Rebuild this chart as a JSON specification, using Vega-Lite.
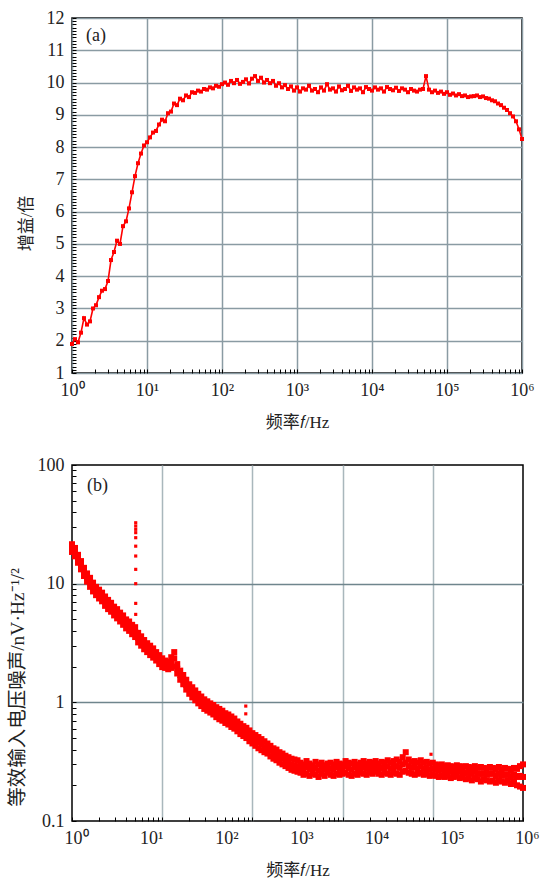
{
"$schema": "https://vega.github.io/schema/vega-lite/v6.json",
"padding": {"left": 6, "top": 8, "right": 10, "bottom": 0},
"background": "white",
"spacing": 24,
"config": {
  "view": {"stroke": "#000", "strokeWidth": 1.5},
  "font": "Liberation Serif",
  "axis": {"domain": false, "labelFont": "Liberation Serif", "labelFontSize": 18, "labelColor": "#222", "titleFont": "Liberation Serif, Noto Sans CJK SC", "titleFontSize": 17, "titleFontWeight": "normal", "titleColor": "#222", "tickColor": "#000", "tickWidth": 1, "tickSize": -4, "labelPadding": 12, "titlePadding": 15, "labelFlush": false, "labelOverlap": false, "gridWidth": 1.5}
},
"datasets": {
"main": [
{"f":1,"g":1.9,"a":21.5,"m":20,"b":18.5},
{"f":1.096,"g":2.05,"a":20,"m":18.4,"b":17},
{"f":1.202,"g":1.95,"a":17.5,"m":16.3,"b":15},
{"f":1.318,"g":2.25,"a":15.5,"m":14.2,"b":13.2},
{"f":1.445,"g":2.7,"a":13.6,"m":12.6,"b":11.6},
{"f":1.585,"g":2.5,"a":12.2,"m":11.2,"b":10.4},
{"f":1.738,"g":2.6,"a":11.2,"m":10.3,"b":9.4},
{"f":1.905,"g":3.0,"a":10.2,"m":9.3,"b":8.6},
{"f":2.089,"g":3.1,"a":9.4,"m":8.7,"b":8.0},
{"f":2.291,"g":3.35,"a":8.9,"m":8.2,"b":7.5},
{"f":2.512,"g":3.55,"a":8.4,"m":7.7,"b":7.1},
{"f":2.754,"g":3.6,"a":7.8,"m":7.1,"b":6.5},
{"f":3.02,"g":3.85,"a":7.3,"m":6.7,"b":6.1},
{"f":3.311,"g":4.5,"a":6.9,"m":6.3,"b":5.8},
{"f":3.631,"g":4.75,"a":6.4,"m":5.9,"b":5.4},
{"f":3.981,"g":5.1,"a":6.1,"m":5.6,"b":5.1},
{"f":4.365,"g":5.0,"a":5.7,"m":5.2,"b":4.8},
{"f":4.786,"g":5.55,"a":5.4,"m":4.9,"b":4.5},
{"f":5.248,"g":5.7,"a":5.0,"m":4.6,"b":4.2},
{"f":5.754,"g":6.1,"a":4.8,"m":4.4,"b":4.0},
{"f":6.31,"g":6.6,"a":4.5,"m":4.1,"b":3.75},
{"f":6.918,"g":7.1,"a":4.3,"m":3.9,"b":3.55},
{"f":7.586,"g":7.5,"a":3.85,"m":3.5,"b":3.2},
{"f":8.318,"g":7.8,"a":3.6,"m":3.3,"b":3.0},
{"f":9.12,"g":8.05,"a":3.35,"m":3.05,"b":2.8},
{"f":10,"g":8.15,"a":3.15,"m":2.9,"b":2.65},
{"f":10.96,"g":8.3,"a":3.0,"m":2.75,"b":2.5},
{"f":12.02,"g":8.45,"a":2.85,"m":2.6,"b":2.38},
{"f":13.18,"g":8.5,"a":2.65,"m":2.45,"b":2.25},
{"f":14.45,"g":8.7,"a":2.5,"m":2.3,"b":2.1},
{"f":15.85,"g":8.85,"a":2.35,"m":2.15,"b":1.98},
{"f":17.38,"g":8.8,"a":2.25,"m":2.1,"b":1.95},
{"f":19.05,"g":9.05,"a":2.2,"m":2.05,"b":1.9},
{"f":20.89,"g":9.1,"a":2.4,"m":2.15,"b":1.95},
{"f":22.91,"g":9.35,"a":2.65,"m":2.35,"b":2.0},
{"f":25.12,"g":9.3,"a":2.1,"m":1.92,"b":1.75},
{"f":27.54,"g":9.5,"a":1.85,"m":1.7,"b":1.55},
{"f":30.2,"g":9.45,"a":1.7,"m":1.55,"b":1.42},
{"f":33.11,"g":9.6,"a":1.55,"m":1.4,"b":1.28},
{"f":36.31,"g":9.55,"a":1.42,"m":1.3,"b":1.18},
{"f":39.81,"g":9.7,"a":1.34,"m":1.22,"b":1.1},
{"f":43.65,"g":9.68,"a":1.26,"m":1.15,"b":1.04},
{"f":47.86,"g":9.75,"a":1.18,"m":1.08,"b":0.98},
{"f":52.48,"g":9.72,"a":1.12,"m":1.02,"b":0.93},
{"f":57.54,"g":9.8,"a":1.06,"m":0.97,"b":0.88},
{"f":63.1,"g":9.78,"a":1.02,"m":0.93,"b":0.85},
{"f":69.18,"g":9.85,"a":0.98,"m":0.9,"b":0.82},
{"f":75.86,"g":9.82,"a":0.95,"m":0.87,"b":0.79},
{"f":83.18,"g":9.9,"a":0.91,"m":0.83,"b":0.75},
{"f":91.2,"g":9.87,"a":0.88,"m":0.8,"b":0.72},
{"f":100,"g":9.95,"a":0.85,"m":0.77,"b":0.7},
{"f":109.6,"g":10.0,"a":0.81,"m":0.74,"b":0.67},
{"f":120.2,"g":9.93,"a":0.79,"m":0.72,"b":0.65},
{"f":131.8,"g":10.05,"a":0.76,"m":0.69,"b":0.62},
{"f":144.5,"g":9.98,"a":0.73,"m":0.66,"b":0.6},
{"f":158.5,"g":10.08,"a":0.69,"m":0.63,"b":0.57},
{"f":173.8,"g":9.96,"a":0.66,"m":0.6,"b":0.54},
{"f":190.5,"g":10.02,"a":0.63,"m":0.57,"b":0.52},
{"f":208.9,"g":10.1,"a":0.61,"m":0.55,"b":0.5},
{"f":229.1,"g":9.97,"a":0.58,"m":0.52,"b":0.47},
{"f":251.2,"g":10.12,"a":0.55,"m":0.5,"b":0.45},
{"f":275.4,"g":10.2,"a":0.53,"m":0.48,"b":0.43},
{"f":302,"g":10.05,"a":0.51,"m":0.46,"b":0.41},
{"f":331.1,"g":10.15,"a":0.49,"m":0.44,"b":0.395},
{"f":363.1,"g":10.0,"a":0.47,"m":0.42,"b":0.38},
{"f":398.1,"g":10.08,"a":0.45,"m":0.41,"b":0.37},
{"f":436.5,"g":9.98,"a":0.43,"m":0.39,"b":0.35},
{"f":478.6,"g":10.05,"a":0.41,"m":0.37,"b":0.335},
{"f":524.8,"g":9.9,"a":0.4,"m":0.36,"b":0.325},
{"f":575.4,"g":9.98,"a":0.38,"m":0.345,"b":0.31},
{"f":631,"g":9.85,"a":0.37,"m":0.335,"b":0.3},
{"f":691.8,"g":9.92,"a":0.355,"m":0.32,"b":0.29},
{"f":758.6,"g":9.8,"a":0.345,"m":0.31,"b":0.28},
{"f":831.8,"g":9.88,"a":0.335,"m":0.3,"b":0.27},
{"f":912,"g":9.75,"a":0.33,"m":0.295,"b":0.265},
{"f":1000,"g":9.85,"a":0.325,"m":0.29,"b":0.26},
{"f":1096,"g":9.72,"a":0.31,"m":0.28,"b":0.255},
{"f":1202,"g":9.82,"a":0.3,"m":0.27,"b":0.245},
{"f":1318,"g":9.78,"a":0.32,"m":0.285,"b":0.25},
{"f":1445,"g":9.9,"a":0.305,"m":0.275,"b":0.24},
{"f":1585,"g":9.75,"a":0.295,"m":0.27,"b":0.25},
{"f":1738,"g":9.8,"a":0.315,"m":0.28,"b":0.245},
{"f":1905,"g":9.7,"a":0.3,"m":0.265,"b":0.235},
{"f":2089,"g":9.85,"a":0.31,"m":0.28,"b":0.25},
{"f":2291,"g":9.75,"a":0.295,"m":0.27,"b":0.24},
{"f":2512,"g":9.95,"a":0.305,"m":0.28,"b":0.255},
{"f":2754,"g":9.78,"a":0.31,"m":0.275,"b":0.245},
{"f":3020,"g":9.82,"a":0.3,"m":0.27,"b":0.24},
{"f":3311,"g":9.72,"a":0.315,"m":0.285,"b":0.25},
{"f":3631,"g":9.88,"a":0.305,"m":0.275,"b":0.245},
{"f":3981,"g":9.76,"a":0.3,"m":0.27,"b":0.25},
{"f":4365,"g":9.8,"a":0.32,"m":0.29,"b":0.255},
{"f":4786,"g":9.9,"a":0.31,"m":0.28,"b":0.245},
{"f":5248,"g":9.74,"a":0.305,"m":0.27,"b":0.24},
{"f":5754,"g":9.85,"a":0.315,"m":0.285,"b":0.25},
{"f":6310,"g":9.78,"a":0.3,"m":0.27,"b":0.245},
{"f":6918,"g":9.82,"a":0.31,"m":0.28,"b":0.255},
{"f":7586,"g":9.7,"a":0.32,"m":0.285,"b":0.25},
{"f":8318,"g":9.86,"a":0.305,"m":0.275,"b":0.245},
{"f":9120,"g":9.8,"a":0.315,"m":0.285,"b":0.255},
{"f":10000,"g":9.75,"a":0.31,"m":0.28,"b":0.25},
{"f":10960,"g":9.85,"a":0.32,"m":0.29,"b":0.26},
{"f":12020,"g":9.78,"a":0.305,"m":0.275,"b":0.25},
{"f":13180,"g":9.82,"a":0.315,"m":0.28,"b":0.245},
{"f":14450,"g":9.72,"a":0.31,"m":0.285,"b":0.255},
{"f":15850,"g":9.86,"a":0.325,"m":0.29,"b":0.25},
{"f":17380,"g":9.8,"a":0.31,"m":0.275,"b":0.245},
{"f":19050,"g":9.76,"a":0.32,"m":0.285,"b":0.255},
{"f":20890,"g":9.84,"a":0.33,"m":0.29,"b":0.25},
{"f":22910,"g":9.74,"a":0.315,"m":0.28,"b":0.245},
{"f":25120,"g":9.82,"a":0.345,"m":0.3,"b":0.26},
{"f":27540,"g":9.78,"a":0.38,"m":0.31,"b":0.265},
{"f":30200,"g":9.7,"a":0.33,"m":0.29,"b":0.255},
{"f":33110,"g":9.8,"a":0.315,"m":0.28,"b":0.25},
{"f":36310,"g":9.75,"a":0.32,"m":0.285,"b":0.245},
{"f":39810,"g":9.72,"a":0.31,"m":0.275,"b":0.25},
{"f":43650,"g":9.78,"a":0.325,"m":0.29,"b":0.255},
{"f":47860,"g":9.8,"a":0.31,"m":0.275,"b":0.245},
{"f":52480,"g":10.2,"a":0.315,"m":0.28,"b":0.25},
{"f":57540,"g":9.78,"a":0.305,"m":0.27,"b":0.24},
{"f":63100,"g":9.7,"a":0.31,"m":0.275,"b":0.245},
{"f":69180,"g":9.75,"a":0.3,"m":0.27,"b":0.24},
{"f":75860,"g":9.68,"a":0.295,"m":0.265,"b":0.235},
{"f":83180,"g":9.72,"a":0.3,"m":0.27,"b":0.24},
{"f":91200,"g":9.65,"a":0.29,"m":0.26,"b":0.235},
{"f":100000,"g":9.7,"a":0.295,"m":0.265,"b":0.24},
{"f":109600,"g":9.62,"a":0.29,"m":0.26,"b":0.23},
{"f":120200,"g":9.66,"a":0.285,"m":0.255,"b":0.235},
{"f":131800,"g":9.6,"a":0.295,"m":0.265,"b":0.24},
{"f":144500,"g":9.64,"a":0.29,"m":0.26,"b":0.23},
{"f":158500,"g":9.58,"a":0.285,"m":0.255,"b":0.235},
{"f":173800,"g":9.6,"a":0.29,"m":0.255,"b":0.225},
{"f":190500,"g":9.55,"a":0.285,"m":0.255,"b":0.23},
{"f":208900,"g":9.57,"a":0.28,"m":0.25,"b":0.22},
{"f":229100,"g":9.58,"a":0.29,"m":0.26,"b":0.23},
{"f":251200,"g":9.6,"a":0.28,"m":0.25,"b":0.225},
{"f":275400,"g":9.55,"a":0.285,"m":0.25,"b":0.215},
{"f":302000,"g":9.57,"a":0.28,"m":0.25,"b":0.225},
{"f":331100,"g":9.52,"a":0.275,"m":0.245,"b":0.22},
{"f":363100,"g":9.5,"a":0.285,"m":0.25,"b":0.215},
{"f":398100,"g":9.45,"a":0.28,"m":0.25,"b":0.22},
{"f":436500,"g":9.42,"a":0.275,"m":0.24,"b":0.21},
{"f":478600,"g":9.35,"a":0.285,"m":0.25,"b":0.22},
{"f":524800,"g":9.3,"a":0.27,"m":0.24,"b":0.215},
{"f":575400,"g":9.22,"a":0.28,"m":0.245,"b":0.21},
{"f":631000,"g":9.15,"a":0.275,"m":0.245,"b":0.22},
{"f":691800,"g":9.05,"a":0.27,"m":0.235,"b":0.205},
{"f":758600,"g":8.95,"a":0.28,"m":0.245,"b":0.215},
{"f":831800,"g":8.8,"a":0.275,"m":0.235,"b":0.2},
{"f":912000,"g":8.55,"a":0.29,"m":0.24,"b":0.195},
{"f":1000000,"g":8.25,"a":0.3,"m":0.235,"b":0.19}
],
"spikes": [
{"f":7.04,"v":32.6},{"f":7.04,"v":30.6},{"f":7.04,"v":28.7},{"f":7.04,"v":26.9},{"f":7.04,"v":24.4},{"f":7.04,"v":20.7},{"f":7.04,"v":17.1},{"f":7.04,"v":13.2},{"f":7.04,"v":10.0},{"f":7.04,"v":6.82},{"f":7.04,"v":5.51},{"f":205,"v":0.93},{"f":205,"v":0.8},{"f":59700,"v":0.365}
]
},
"vconcat": [
{
  "width": 450, "height": 355,
  "layer": [
    {"data": {"name": "main"},
     "mark": {"type": "line", "color": "#ff0000", "strokeWidth": 1.6},
     "encoding": {
       "x": {"field": "f", "type": "quantitative", "scale": {"type": "log", "domain": [1, 1000000], "nice": false},
         "axis": {"title": "频率𝑓/Hz",
           "values": [1,2,3,4,5,6,7,8,9,10,20,30,40,50,60,70,80,90,100,200,300,400,500,600,700,800,900,1000,2000,3000,4000,5000,6000,7000,8000,9000,10000,20000,30000,40000,50000,60000,70000,80000,90000,100000,200000,300000,400000,500000,600000,700000,800000,900000,1000000],
           "labelExpr": "indexof([1,10,100,1000,10000,100000,1000000], datum.value) >= 0 ? '10' + ['⁰','¹','²','³','⁴','⁵','⁶'][indexof([1,10,100,1000,10000,100000,1000000], datum.value)] : ''",
           "gridColor": "#8a9ba3",
           "gridOpacity": {"condition": {"test": "indexof([1,10,100,1000,10000,100000,1000000], datum.value) >= 0", "value": 1}, "value": 0}}},
       "y": {"field": "g", "type": "quantitative", "scale": {"domain": [1, 12], "nice": false, "zero": false},
         "axis": {"title": "增益/倍", "titleY": 205, "titlePadding": 11, "tickCount": 110,
           "labelExpr": "datum.value % 1 === 0 ? format(datum.value, 'd') : ''",
           "gridColor": "#8a9ba3",
           "gridOpacity": {"condition": {"test": "datum.value % 1 === 0", "value": 1}, "value": 0}}}
     }},
    {"data": {"name": "main"},
     "mark": {"type": "point", "shape": "square", "filled": true, "size": 16, "color": "#ff0000", "opacity": 1},
     "encoding": {"x": {"field": "f", "type": "quantitative"}, "y": {"field": "g", "type": "quantitative"}}},
    {"data": {"values": [{"f": 1.54, "g": 11.44, "t": "(a)"}]},
     "mark": {"type": "text", "align": "left", "baseline": "middle", "font": "Liberation Serif", "fontSize": 18, "color": "#222"},
     "encoding": {"x": {"field": "f", "type": "quantitative"}, "y": {"field": "g", "type": "quantitative"}, "text": {"field": "t"}}}
  ]
},
{
  "width": 451, "height": 356,
  "layer": [
    {"data": {"name": "main"},
     "transform": [{"fold": ["a", "m", "b"], "as": ["s", "v"]}],
     "mark": {"type": "point", "shape": "square", "filled": true, "size": 36, "color": "#ff0000", "opacity": 1},
     "encoding": {
       "x": {"field": "f", "type": "quantitative", "scale": {"type": "log", "domain": [1, 1000000], "nice": false},
         "axis": {"title": "频率𝑓/Hz", "labelOffset": 4,
           "values": [1,10,100,1000,10000,100000,1000000,2.297,3.737,5.278,6.9,8.586,10.33,12.13,13.97,15.849,36.41,59.23,83.65,109.4,136.1,163.7,192.2,221.4,251.19,577,938.7,1325.8,1733.2,2156.7,2594.9,3046.9,3509.1,3981.07,9144,14877,21012,27469,34181,41126,48290,55614,63095.7,144930,235790,333020,435360,541740,651800,765360,881390],
           "labelExpr": "indexof([1,10,100,1000,10000,100000,1000000], datum.value) >= 0 ? '10' + ['⁰','¹','²','³','⁴','⁵','⁶'][indexof([1,10,100,1000,10000,100000,1000000], datum.value)] : ''",
           "tickOpacity": {"condition": {"test": "indexof([10,100,1000,10000,100000], datum.value) >= 0", "value": 0}, "value": 1},
           "gridColor": "#a9b7bc",
           "gridOpacity": {"condition": {"test": "indexof([15.849,251.19,3981.07,63095.7], datum.value) >= 0", "value": 1}, "value": 0}}},
       "y": {"field": "v", "type": "quantitative", "scale": {"type": "log", "domain": [0.1, 100], "nice": false},
         "axis": {"title": "等效输入电压噪声/nV·Hz⁻¹/²", "titleFontSize": 19.5, "titleY": 222, "titlePadding": 10,
           "values": [0.1,0.2,0.3,0.4,0.5,0.6,0.7,0.8,0.9,1,2,3,4,5,6,7,8,9,10,20,30,40,50,60,70,80,90,100],
           "labelExpr": "indexof([0.1,1,10,100], datum.value) >= 0 ? (datum.value < 1 ? '0.1' : format(datum.value, 'd')) : ''",
           "gridColor": "#6f858d",
           "gridOpacity": {"condition": {"test": "indexof([1,10], datum.value) >= 0", "value": 1}, "value": 0}}}
     }},
    {"data": {"name": "spikes"},
     "mark": {"type": "point", "shape": "square", "filled": true, "size": 10, "color": "#ff0000", "opacity": 1},
     "encoding": {"x": {"field": "f", "type": "quantitative"}, "y": {"field": "v", "type": "quantitative"}}},
    {"data": {"values": [{"f": 1.58, "v": 66, "t": "(b)"}]},
     "mark": {"type": "text", "align": "left", "baseline": "middle", "font": "Liberation Serif", "fontSize": 18, "color": "#222"},
     "encoding": {"x": {"field": "f", "type": "quantitative"}, "y": {"field": "v", "type": "quantitative"}, "text": {"field": "t"}}}
  ]
}
]
}
